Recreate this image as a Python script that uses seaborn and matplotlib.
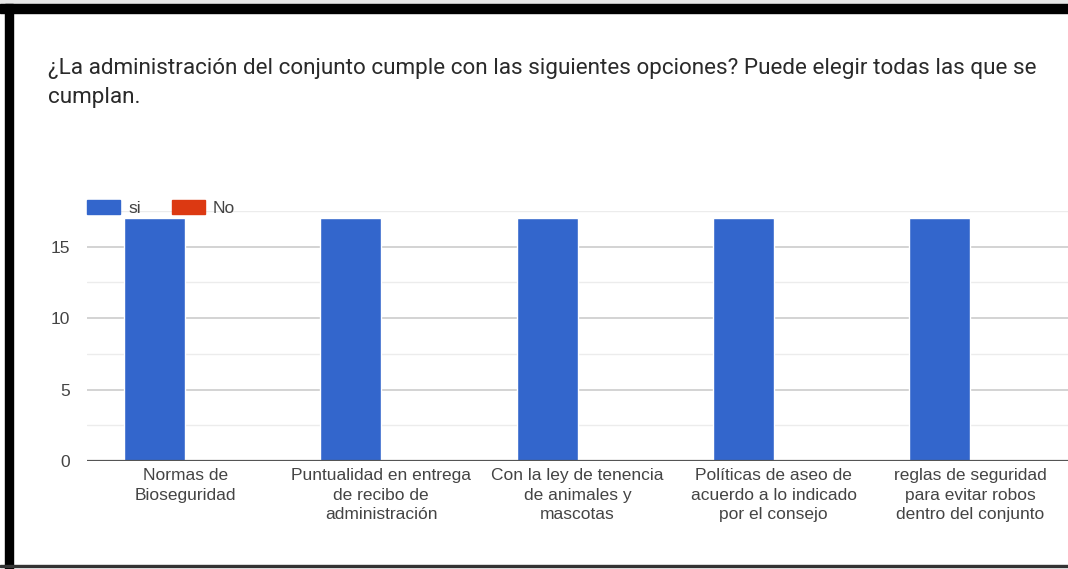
import pandas as pd
import matplotlib
matplotlib.use("Agg")
import matplotlib.pyplot as plt
from matplotlib.patches import Rectangle
from matplotlib.ticker import MultipleLocator
import seaborn as sns

# Data
categories = [
    "Normas de\nBioseguridad",
    "Puntualidad en entrega\nde recibo de\nadministración",
    "Con la ley de tenencia\nde animales y\nmascotas",
    "Políticas de aseo de\nacuerdo a lo indicado\npor el consejo",
    "reglas de seguridad\npara evitar robos\ndentro del conjunto",
]
si_values = [17, 17, 17, 17, 17]
no_values = [0, 0, 0, 0, 0]
series_names = ["si", "No"]
series_colors = ["#3366cc", "#dc3912"]

df = pd.DataFrame({
    "categoria": categories * 2,
    "respuesta": [series_names[0]] * len(categories) + [series_names[1]] * len(categories),
    "valor": si_values + no_values,
})

sns.set_theme(style="white")
plt.rcParams["font.family"] = ["Liberation Sans", "DejaVu Sans"]

fig = plt.figure(figsize=(10.68, 5.69), dpi=100)
fig.patch.set_facecolor("white")
ax = fig.add_axes([87 / 1068, 1 - 461 / 569, 981 / 1068, (461 - 211) / 569])

sns.barplot(data=df, x="categoria", y="valor", hue="respuesta",
            palette=series_colors, width=0.62, gap=0.0, saturation=1,
            ax=ax, legend=False, zorder=3)

ax.set_xlim(-0.5, len(categories) - 0.5)
ax.set_ylim(0, 17.5)
ax.yaxis.set_major_locator(MultipleLocator(5))
ax.yaxis.set_minor_locator(MultipleLocator(2.5))
ax.grid(axis="y", which="major", color="#cccccc", linewidth=1.2, zorder=0)
ax.grid(axis="y", which="minor", color="#ececec", linewidth=1.0, zorder=0)
ax.axhline(0, color="#555555", linewidth=1.6, zorder=4)
for s in ax.spines.values():
    s.set_visible(False)
ax.set_xlabel("")
ax.set_ylabel("")
ax.tick_params(axis="both", length=0, labelsize=12.5, colors="#444444")
ax.tick_params(axis="y", pad=12)
ax.tick_params(axis="x", pad=5)
for lbl in ax.get_xticklabels():
    lbl.set_linespacing(1.38)
    lbl.set_horizontalalignment("center")

# legend at the top left
handles = [Rectangle((0, 0), 1, 1, color=c) for c in series_colors]
fig.legend(handles, series_names, loc="center left",
           bbox_to_anchor=(82 / 1068, 1 - 208 / 569), ncol=2, frameon=False,
           handlelength=1.9, handleheight=0.85, handletextpad=0.45,
           columnspacing=1.8, fontsize=12.5, labelcolor="#444444",
           borderaxespad=0, borderpad=0.3)

# title
fig.text(48 / 1068, 1 - 103 / 569,
         "¿La administración del conjunto cumple con las siguientes opciones? Puede elegir todas las que se\ncumplan.",
         ha="left", va="baseline", fontsize=16.2, color="#2a2a2a",
         family=["Roboto", "DejaVu Sans"], linespacing=1.5)

# black frame of the screenshot
fig.patches.append(Rectangle((0, 1 - 4 / 569), 1, 4 / 569, transform=fig.transFigure,
                             color="#e6e6e6", zorder=10))
fig.patches.append(Rectangle((0, 1 - 13 / 569), 1, 9 / 569, transform=fig.transFigure,
                             color="black", zorder=10))
fig.patches.append(Rectangle((5 / 1068, 0), 8 / 1068, 1 - 4 / 569, transform=fig.transFigure,
                             color="black", zorder=10))
fig.patches.append(Rectangle((0, 2 / 569), 1, 2 / 569, transform=fig.transFigure,
                             color="#333333", zorder=10))

fig.savefig("out.png", dpi=100, facecolor="white")
